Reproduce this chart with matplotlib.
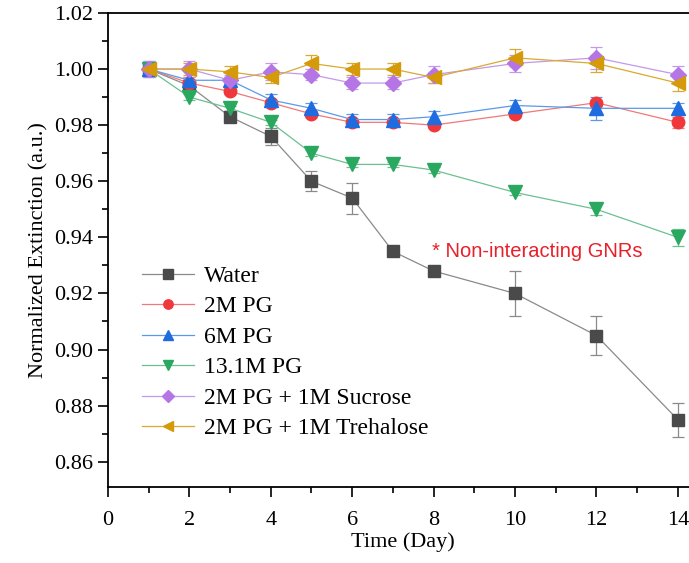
import matplotlib
matplotlib.use("Agg")
import matplotlib.pyplot as plt
from matplotlib.lines import Line2D
from matplotlib.ticker import MultipleLocator

# donnees
days = [1, 2, 3, 4, 5, 6, 7, 8, 10, 12, 14]

water = [1.000, 0.994, 0.983, 0.976, 0.960, 0.954, 0.935, 0.928, 0.920, 0.905, 0.875]
water_err = [0.003, 0.002, 0.002, 0.003, 0.0035, 0.0055, 0.001, 0.001, 0.008, 0.007, 0.006]

pg2 = [1.000, 0.995, 0.992, 0.988, 0.984, 0.981, 0.981, 0.980, 0.984, 0.988, 0.981]
pg2_err = [0.002, 0.001, 0.001, 0.001, 0.001, 0.001, 0.001, 0.001, 0.001, 0.001, 0.002]

pg6 = [1.000, 0.996, 0.996, 0.989, 0.986, 0.982, 0.982, 0.983, 0.987, 0.986, 0.986]
pg6_err = [0.002, 0.001, 0.001, 0.002, 0.002, 0.002, 0.002, 0.002, 0.002, 0.004, 0.002]

pg13 = [1.000, 0.990, 0.986, 0.981, 0.970, 0.966, 0.966, 0.964, 0.956, 0.950, 0.940]
pg13_err = [0.002, 0.001, 0.001, 0.001, 0.001, 0.001, 0.001, 0.001, 0.001, 0.002, 0.003]

sucrose = [1.000, 1.000, 0.996, 0.999, 0.998, 0.995, 0.995, 0.998, 1.002, 1.004, 0.998]
sucrose_err = [0.003, 0.003, 0.002, 0.003, 0.002, 0.002, 0.002, 0.003, 0.003, 0.004, 0.003]

trehalose = [1.000, 1.000, 0.999, 0.997, 1.002, 1.000, 1.000, 0.997, 1.004, 1.002, 0.995]
trehalose_err = [0.002, 0.002, 0.002, 0.002, 0.003, 0.002, 0.002, 0.002, 0.003, 0.003, 0.003]

labels = ["Water", "2M PG", "6M PG", "13.1M PG", "2M PG + 1M Sucrose", "2M PG + 1M Trehalose"]
series = [(water, water_err), (pg2, pg2_err), (pg6, pg6_err),
          (pg13, pg13_err), (sucrose, sucrose_err), (trehalose, trehalose_err)]
markers = ["s", "o", "^", "v", "D", "<"]
msizes = [9, 9, 10, 10, 8, 10]
mcolors = ["#4a4a4a", "#f0383c", "#1f6be0", "#2aa860", "#b575e5", "#d49a0a"]
lcolors = ["#8a8a8a", "#f07878", "#5a9ae8", "#6cc090", "#c498ea", "#d8aa30"]

plt.rcParams["font.family"] = ["Liberation Serif", "DejaVu Serif"]

fig = plt.figure(figsize=(6.89, 5.63), dpi=100)
ax = fig.add_axes([0.1567, 0.135, 0.8566, 0.842])

handles = []
for (vals, err), lab, m, ms, mc, lc in zip(series, labels, markers, msizes, mcolors, lcolors):
    ax.errorbar(days, vals, yerr=err, color=lc, lw=0.9, marker=m, ms=ms,
                mfc=mc, mec=mc, ecolor=lc, elinewidth=0.9, capsize=4, capthick=0.9)
    handles.append(Line2D([], [], color=lc, lw=0.9, marker=m, ms=ms * 0.75,
                          mfc=mc, mec=mc, label=lab))

ax.set_xlim(0, 14.5)
ax.set_ylim(0.851, 1.02)
ax.xaxis.set_major_locator(MultipleLocator(2))
ax.xaxis.set_minor_locator(MultipleLocator(1))
ax.yaxis.set_major_locator(MultipleLocator(0.02))
ax.yaxis.set_minor_locator(MultipleLocator(0.01))
ax.yaxis.set_major_formatter(plt.FormatStrFormatter("%.2f"))
ax.tick_params(which="major", direction="out", length=7, width=1.2, labelsize=16)
ax.tick_params(axis="x", which="major", pad=10)
ax.tick_params(which="minor", direction="out", length=4, width=1.2)
for s in ax.spines.values():
    s.set_linewidth(1.3)

ax.set_xlabel("Time (Day)", fontsize=16, labelpad=2)
ax.set_ylabel("Normalized Extinction (a.u.)", fontsize=16, labelpad=4)

ax.text(7.97, 0.935, "* Non-interacting GNRs", color="#e8202a", fontsize=14.5,
        family=["Liberation Sans", "DejaVu Sans"], ha="left", va="center")

ax.legend(handles=handles, loc="upper left", bbox_to_anchor=(0.84, 0.930),
          bbox_transform=ax.transData, frameon=False, fontsize=17,
          handlelength=2.2, handletextpad=0.4, labelspacing=0.38,
          borderpad=0, borderaxespad=0)

fig.savefig("out.png", dpi=100)
